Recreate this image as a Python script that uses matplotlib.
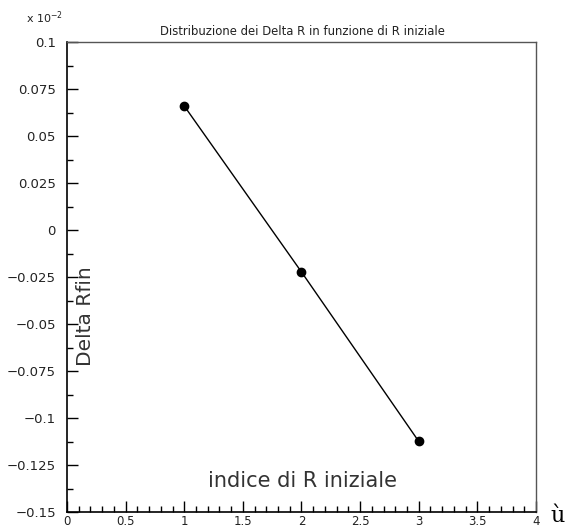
import numpy as np
import matplotlib
matplotlib.use("Agg")
import matplotlib.pyplot as plt
from matplotlib.ticker import MultipleLocator, FuncFormatter

# valori (in unita' di 10^-2)
indice = [1, 2, 3]
delta_rfin = [0.0662, -0.0222, -0.1124]

x_ticks = [0, 0.5, 1, 1.5, 2, 2.5, 3, 3.5, 4]
y_ticks = [-0.15, -0.125, -0.1, -0.075, -0.05, -0.025, 0, 0.025, 0.05, 0.075, 0.1]

plt.rcParams['font.family'] = ['DejaVu Sans']

fig = plt.figure(figsize=(5.71, 5.29), dpi=100)
ax = fig.add_axes([0.1173, 0.0321, 0.8214, 0.8876])

ax.plot(indice, delta_rfin, color="black", linewidth=1.0,
        marker="o", markersize=6, markerfacecolor="black", markeredgecolor="black")

ax.set_xlim(0, 4)
ax.set_ylim(-0.15, 0.1)
ax.set_xticks(x_ticks)
ax.set_yticks(y_ticks)
ax.xaxis.set_minor_locator(MultipleLocator(0.1))
ax.yaxis.set_minor_locator(MultipleLocator(0.0125))

def fmt(v, pos):
    s = f"{v:g}"
    return s.replace("-", "\u2212")

ax.xaxis.set_major_formatter(FuncFormatter(fmt))
ax.yaxis.set_major_formatter(FuncFormatter(fmt))

ax.tick_params(which="major", direction="in", length=8, width=1,
               labelcolor="#222222")
ax.tick_params(which="minor", direction="in", length=4, width=1)
ax.tick_params(axis="y", pad=8, labelsize=9.5)
ax.tick_params(axis="x", pad=2, labelsize=8.5)
ax.tick_params(top=False, right=False, which="both")

for side in ["left", "bottom"]:
    ax.spines[side].set_color("black")
    ax.spines[side].set_linewidth(1.2)
for side in ["top", "right"]:
    ax.spines[side].set_color("#555555")
    ax.spines[side].set_linewidth(1.0)

fig.text(0.53, 0.94, "Distribuzione dei Delta R in funzione di R iniziale",
         ha="center", va="center", fontsize=8.4, color="#222222")
fig.text(0.046, 0.966, r"x 10$^{-2}$", ha="left", va="center", fontsize=8,
         color="#222222")

ax.text(0.503, 0.065, "indice di R iniziale", transform=ax.transAxes,
        ha="center", va="center", fontsize=15, color="#333333")
ax.text(0.04, 0.418, "Delta Rfin", transform=ax.transAxes, rotation=90,
        ha="center", va="center", fontsize=14.5, color="#333333")
fig.text(0.977, 0.024, "ù", ha="center", va="center", fontsize=16, family="DejaVu Serif")

fig.savefig("out.png", dpi=100)
plt.close(fig)
